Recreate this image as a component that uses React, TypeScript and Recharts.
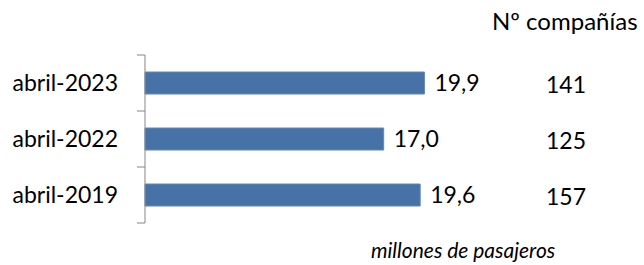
import { BarChart, Bar, XAxis, YAxis, LabelList } from 'recharts';

const years = ['abril-2023', 'abril-2022', 'abril-2019'];
const passengers = [19.9, 17.0, 19.6];
const companies = ['141', '125', '157'];

const data = years.map((year, i) => ({
    year,
    passengers: passengers[i],
    companies: companies[i],
}));

const FONT = 'Lato, "Noto Sans", sans-serif';
const TICK_SIZE = 8;
const TICK_MARGIN = 19;

// category label plus the small tick marks on the band edges
const LeftTick = (props: any) => {
    const { x, y, payload, index, visibleTicksCount, height } = props;
    const axisX = x + TICK_SIZE + TICK_MARGIN;
    const half = height / visibleTicksCount / 2;
    return (
        <g>
            <line x1={axisX - TICK_SIZE} x2={axisX} y1={y - half} y2={y - half} stroke="#868686" />
            {index === visibleTicksCount - 1 && (
                <line x1={axisX - TICK_SIZE} x2={axisX} y1={y + half} y2={y + half} stroke="#868686" />
            )}
            <text x={x} y={y} dy="0.36em" textAnchor="end" fill="#000" fontSize={23}>
                {payload.value}
            </text>
        </g>
    );
};

export default function App() {
    return (
        <div style={{ position: 'absolute', left: 0, top: 0, width: 644, height: 265, fontFamily: FONT, background: '#fff' }}>
            <BarChart
                layout="vertical"
                width={644}
                height={265}
                data={data}
                margin={{ top: 55, right: 0, bottom: 42, left: 0 }}
            >
                <XAxis type="number" domain={[0, 25]} hide />
                <YAxis
                    yAxisId="left"
                    type="category"
                    dataKey="year"
                    width={145}
                    axisLine={{ stroke: '#868686' }}
                    tickLine={false}
                    tickSize={TICK_SIZE}
                    tickMargin={TICK_MARGIN}
                    tick={<LeftTick />}
                />
                <YAxis
                    yAxisId="right"
                    orientation="right"
                    type="category"
                    dataKey="companies"
                    width={148}
                    axisLine={false}
                    tickLine={false}
                    tickSize={6}
                    tickMargin={44}
                    tick={{ fill: '#000', fontSize: 23, dy: 2 }}
                />
                <Bar
                    yAxisId="left"
                    dataKey="passengers"
                    fill="#4672a7"
                    stroke="#5f88bb"
                    barSize={22}
                    isAnimationActive={false}
                >
                    <LabelList
                        dataKey="passengers"
                        position="right"
                        offset={10}
                        fill="#000"
                        fontSize={23}
                        formatter={(v: any) => Number(v).toFixed(1).replace('.', ',')}
                    />
                </Bar>
            </BarChart>
            <div style={{ position: 'absolute', left: 492, top: 7, fontSize: 24, color: '#000', lineHeight: '28px', whiteSpace: 'nowrap' }}>
                Nº compañías
            </div>
            <div style={{ position: 'absolute', left: 371, top: 238, fontSize: 21, fontStyle: 'italic', color: '#000', lineHeight: '24px', whiteSpace: 'nowrap' }}>
                millones de pasajeros
            </div>
        </div>
    );
}
